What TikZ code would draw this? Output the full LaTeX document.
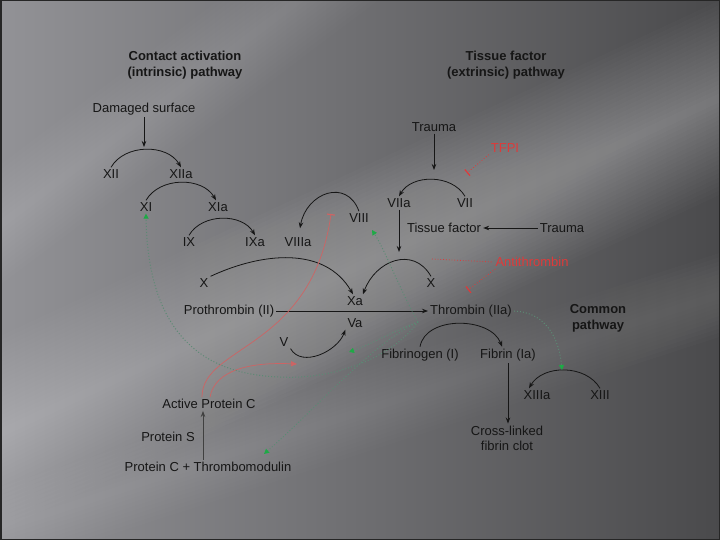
\documentclass[tikz,border=0pt]{standalone}
\usepackage{fontspec}
\setmainfont{Liberation Sans}
\usetikzlibrary{arrows.meta}

\definecolor{bgdark}{RGB}{74,74,76}
\definecolor{bglight}{RGB}{146,146,150}
\definecolor{inkc}{RGB}{22,22,22}
\definecolor{inhred}{RGB}{222,58,58}
\definecolor{apcred}{RGB}{205,100,100}
\definecolor{grnline}{RGB}{92,138,116}
\definecolor{grnhead}{RGB}{30,170,70}

\begin{document}
\begin{tikzpicture}[x=1pt, y=1pt,
    lbl/.style={inner sep=2pt, text=inkc, font=\fontsize{13}{15}\selectfont},
    ttl/.style={lbl, font=\fontsize{13}{16}\selectfont\bfseries, align=center},
    redlbl/.style={lbl, text=inhred},
    actarc/.style={draw=inkc, line width=0.8pt, -{Stealth[length=6pt,width=4.5pt]}},
    thrdot/.style={draw=grnline, line width=1pt, dotted, -{Triangle[length=5pt,width=5pt,color=grnhead]}},
    inhib/.style={draw=inhred, line width=0.8pt, dotted, -{Bar[width=8pt,line width=1.2pt]}},
    apcline/.style={draw=apcred, line width=0.7pt}]
    % Background with light rays
    \useasboundingbox (0,0) rectangle (720,-540);
    \begin{scope}
        \clip (0,0) rectangle (720,-540);
        \shade[left color=bglight, right color=bgdark] (0,0) rectangle (720,-540);
        \foreach \cx/\cy/\ang/\wmax/\op in {200/340/25/90/0.016, 150/112/37/50/0.012, 150/480/18/40/0.012}{
            \begin{scope}[rotate around={\ang:(\cx,-\cy)}]
                \foreach \w in {4,8,...,\wmax}
                    \fill[white, opacity=\op] (\cx-600,-\cy-\w) rectangle (\cx+900,-\cy+\w);
            \end{scope}
        }
    \end{scope}
    \draw[black!85, line width=1.5pt] (0.75,-0.75) rectangle (719.25,-539.25);

    % Titles
    \node[ttl] (tin) at (185,-65) {Contact activation\\(intrinsic) pathway};
    \node[ttl] (tex) at (506,-65) {Tissue factor\\(extrinsic) pathway};
    \node[ttl] (tco) at (598,-318) {Common\\pathway};

    % Factors
    \foreach \name/\x/\y/\txt in {dmg/144/109/Damaged surface, XII/111/174/XII, XIIa/181/174/XIIa,
                                  XI/146/207/XI, XIa/218/207/XIa, IX/189/242/IX, IXa/255/242/IXa,
                                  VIIIa/298/242/VIIIa, VIII/359/218/VIII, trauma1/434/127/Trauma,
                                  VIIa/399/203/VIIa, VII/465/203/VII, tf/444/228/Tissue factor,
                                  trauma2/562/228/Trauma, Xl/204/283/X, Xr/431/283/X,
                                  Xa/355/301/Xa, Va/355/323/Va, pro/229/311/Prothrombin (II),
                                  thr/471/311/Thrombin (IIa), V/284/342/V, fgn/420/355/Fibrinogen (I),
                                  fbn/508/355/Fibrin (Ia), XIIIa/537/395/XIIIa, XIII/600/395/XIII,
                                  apc/209/404/Active Protein C, ps/168/437/Protein S,
                                  pct/208/467/Protein C + Thrombomodulin}{
        \node[lbl] (\name) at (\x,-\y) {\txt};
    }
    \node[lbl, align=center] (clot) at (507,-438) {Cross-linked\\fibrin clot};
    \node[redlbl] (TFPI) at (505,-148) {TFPI};
    \node[redlbl] (at) at (532,-262) {Antithrombin};

    % Intrinsic cascade
    \coordinate (k12) at (144,-147);
    \draw[actarc] (dmg.south) -- (k12);
    \draw[actarc] (XII.north) to[out=60,in=120] (XIIa.north);
    \draw[actarc] (XI.north) to[out=60,in=120] ([xshift=-2pt]XIa.north);
    \draw[actarc] (IX.north) to[out=60,in=120] (IXa.north);
    \draw[actarc] (VIII.north) to[out=110,in=80,looseness=1.5] ([shift={(2pt,7pt)}]VIIIa.north);

    % Extrinsic cascade
    \coordinate (k7) at (434,-170);
    \draw[actarc] (trauma1.south) -- (k7);
    \draw[actarc] (VII.north) to[out=120,in=60] (VIIa.north);
    \coordinate (tfpiend) at (467,-173);
    \draw[inhib] (TFPI.south west) -- (tfpiend);
    \draw[actarc] (trauma2.west) -- (tf.east);
    \coordinate (k10) at (399,-252);
    \draw[actarc] (VIIa.south) -- (k10);
    \draw[actarc] (Xr.north) to[out=120,in=70,looseness=1.3] ([xshift=8pt]Xa.north);
    \draw[actarc] (Xl.north east) to[out=25,in=120] ([xshift=-2pt]Xa.north);

    % Common pathway
    \draw[actarc] (pro.east) -- (thr.west);
    \draw[actarc] (V.south east) to[out=-60,in=-110] (Va.south west);
    \draw[actarc] (fgn.north) to[out=80,in=110] ([xshift=-6pt]fbn.north);
    \draw[actarc] (XIII.north) to[out=120,in=60] ([xshift=-8pt]XIIIa.north);
    \draw[actarc] (fbn.south) -- (fbn.south |- clot.north);
    \draw[actarc, draw=black!75] ([xshift=-5pt]pct.north) -- ([xshift=-5pt]pct.north |- apc.south);

    % Antithrombin
    \coordinate (atstart) at (432,-259);
    \coordinate (atend) at (468,-290);
    \draw[inhred, line width=0.8pt, dotted] (atstart) -- (at.west);
    \draw[inhib] ([xshift=2pt]at.south west) -- (atend);

    % Active protein C
    \coordinate (apcbar) at (331,-214);
    \coordinate (apcarrow) at (297,-364);
    \draw[apcline, -{Bar[width=8pt,line width=1.2pt]}] ([xshift=-7pt]apc.north) .. controls (202,-345) and (312,-350) .. (apcbar);
    \draw[apcline, -{Triangle[length=6pt,width=5pt]}] ([xshift=1pt]apc.north) .. controls (215,-370) and (250,-362) .. (apcarrow);

    % Thrombin feedback
    \coordinate (gs) at (418,-322);
    \coordinate (gVIII) at (372,-230);
    \coordinate (gV) at (349,-352);
    \coordinate (gPC) at (264,-454);
    \coordinate (k13) at (562,-370);
    \draw[thrdot] (gs) .. controls (390,-360) and (330,-380) .. (280,-377)
                       .. controls (220,-375) and (148,-350) .. (XI.south);
    \draw[thrdot] (gs) .. controls (400,-290) and (385,-250) .. (gVIII);
    \draw[thrdot] (gs) .. controls (395,-330) and (370,-345) .. (gV);
    \draw[thrdot] (gs) .. controls (370,-345) and (320,-405) .. (gPC);
    \draw[thrdot] (thr.east) .. controls (540,-312) and (558,-330) .. (k13);
\end{tikzpicture}
\end{document}
